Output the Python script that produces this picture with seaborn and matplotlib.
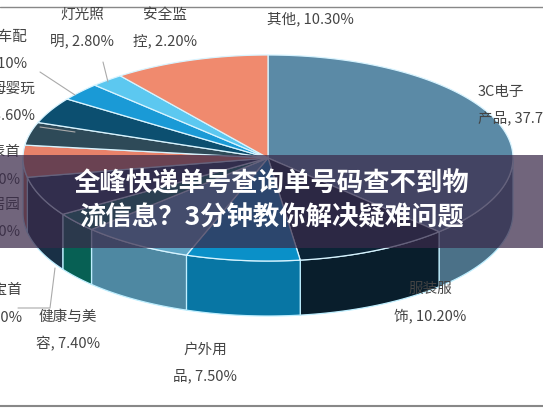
import numpy as np
import matplotlib
matplotlib.use("Agg")
import matplotlib.pyplot as plt
import seaborn as sns
from matplotlib.patches import Polygon, Rectangle
import matplotlib.colors as mc

sns.set_theme(style="white")
plt.rcParams['font.family'] = ['Noto Sans CJK SC', 'DejaVu Sans']

categories = ["3C电子产品", "服装服饰", "户外用品", "健康与美容", "珠宝首饰", "家居园艺",
              "手表首饰", "母婴玩具", "汽车配件", "灯光照明", "安全监控", "其他"]
values = [37.7, 10.2, 7.5, 7.4, 3.0, 6.2, 5.0, 3.6, 4.1, 2.8, 2.2, 10.3]
colors = ["#5b8aa6", "#0b2436", "#0a90c8", "#5fa6c6", "#087566", "#1f3a55",
          "#e8826a", "#2e4a58", "#0c4f70", "#1a9ad6", "#5cc8f0", "#f08a6e"]
# label layout (pixel x, pixel y of first line, alignment, split index)
label_pos = [(478, 85, "left", 4), (430, 282, "center", 3), (205, 343, "center", 3),
             (68, 310, "center", 4), (22, 283, "right", 3), (20, 198, "right", 3),
             (20, 145, "right", 3), (35, 82, "right", 3), (27, 30, "right", 3),
             (82, 8, "center", 3), (165, 8, "center", 3), (310, 12, "center", 99)]

W, H = 543, 408
fig = plt.figure(figsize=(W / 100, H / 100), dpi=100)
ax = fig.add_axes([0, 0, 1, 1])
ax.set_xlim(0, W)
ax.set_ylim(H, 0)
ax.axis("off")

cx, cy, rx, ry, depth = 268, 158, 245, 103, 55
tot = sum(values)
start = 90.0
angles = []
for v in values:
    a1 = start - v / tot * 360
    angles.append((a1, start))
    start = a1

def P(t, dy=0):
    r = np.radians(t)
    return cx + rx * np.cos(r), cy - ry * np.sin(r) + dy

for (a1, a2), c in zip(angles, colors):
    ts = np.linspace(a1, a2, 120)
    ts = ts[np.sin(np.radians(ts)) <= 0.01]
    if len(ts) < 2:
        continue
    x, y = P(ts)
    pts = list(zip(x, y)) + list(zip(x[::-1], y[::-1] + depth))
    dark = tuple(np.array(mc.to_rgb(c)) * 0.82)
    ax.add_patch(Polygon(pts, closed=True, fc=dark, ec="#bfefff", lw=0.9))

for (a1, a2), c in zip(angles, colors):
    ts = np.linspace(a1, a2, 120)
    x, y = P(ts)
    pts = [(cx, cy)] + list(zip(x, y))
    ax.add_patch(Polygon(pts, closed=True, fc=c, ec="#d8f4ff", lw=0.9))

for name, v, (lx, ly, ha, k) in zip(categories, values, label_pos):
    if k >= len(name):
        txt = f"{name}, {v:.2f}%"
    else:
        txt = f"{name[:k]}\n{name[k:]}, {v:.2f}%"
    ax.text(lx, ly, txt, ha=ha, va="top", fontsize=10.5, color="#444444",
            linespacing=2.0, clip_on=False)

# leader lines
ax.plot([40, 75], [127, 132], color="#aaaaaa", lw=0.8)
ax.plot([40, 75], [72, 95], color="#aaaaaa", lw=0.8)
ax.plot([103, 108], [62, 82], color="#aaaaaa", lw=0.8)
ax.plot([18, 50, 55], [308, 308, 268], color="#aaaaaa", lw=0.8)

ax.add_patch(Rectangle((0, 155), W, 93, fc="#3a2a4a", alpha=0.72, ec="none", zorder=5))
ax.text(W / 2, 201, "全峰快递单号查询单号码查不到物\n流信息？3分钟教你解决疑难问题",
        ha="center", va="center", fontsize=19, fontweight="bold", color="white",
        zorder=6, linespacing=1.35)
ax.plot([0, W], [7, 7], color="#888888", lw=1)
ax.plot([0, W], [406, 406], color="#888888", lw=1.5)

fig.savefig("out.png", dpi=100)
